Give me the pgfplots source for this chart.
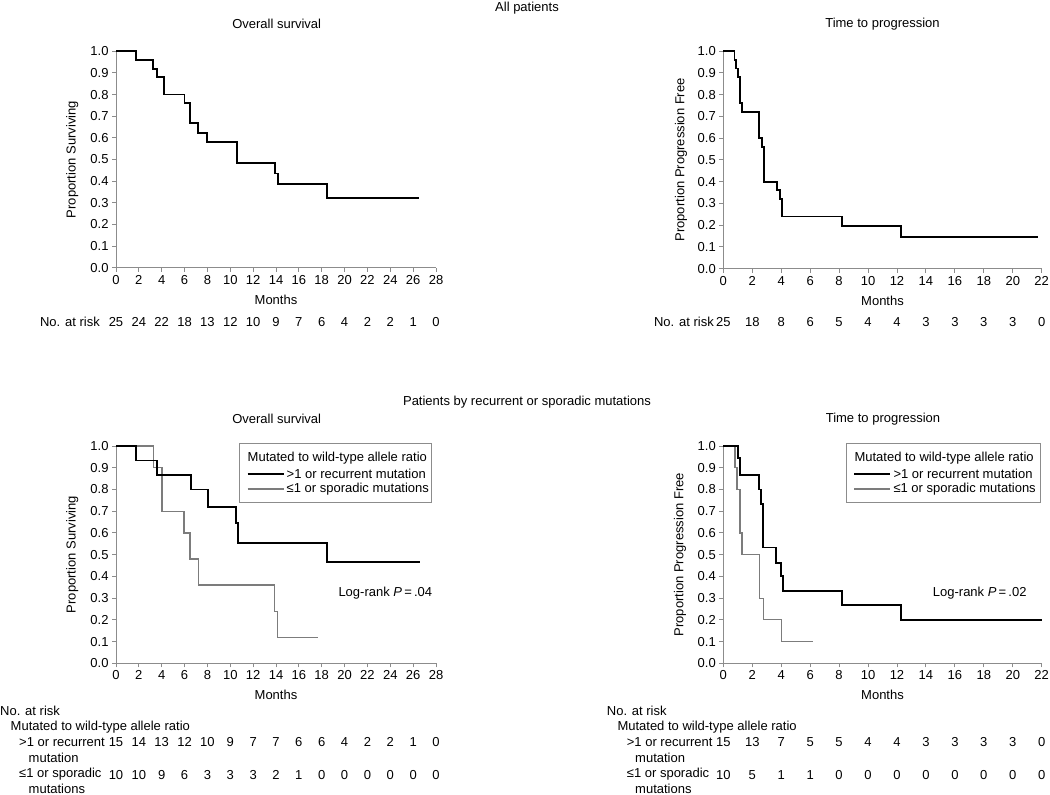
\documentclass[border=0pt]{standalone}
\usepackage{fontspec}
\setmainfont{Liberation Sans}
\usepackage{pgfplots}
\pgfplotsset{compat=1.18}
\definecolor{axgray}{HTML}{8C8C8C}
\definecolor{kmgray}{HTML}{7C7C7C}
\newcommand{\fs}{\fontsize{13bp}{15.6bp}\selectfont}

\pgfplotsset{
  km/.style={
    scale only axis,
    axis x line*=bottom, axis y line*=left,
    axis line style={draw=axgray, line width=0.9bp, -},
    every tick/.style={draw=axgray, line width=0.9bp},
    tick align=outside, major tick length=4bp,
    ymin=0, ymax=1,
    ytick={0,0.1,0.2,0.3,0.4,0.5,0.6,0.7,0.8,0.9,1},
    /pgf/number format/assume math mode=true,
    y tick label style={/pgf/number format/.cd, fixed, fixed zerofill, precision=1},
    tick label style={font=\fs, text=black},
    label style={font=\fs, text=black},
    xlabel={Months},
    xlabel style={at={(axis description cs:0.5,-0.147)}, anchor=center},
    ylabel style={at={(axis description cs:-0.137,0.5)}, anchor=center},
    clip=false,
  },
  hi/.style={const plot, black, line width=1.8bp},
  lo/.style={const plot, kmgray, line width=1.2bp},
}

\begin{document}
\begin{tikzpicture}[font=\fs]
\useasboundingbox (0bp,0bp) rectangle (1050bp,795bp);

% ---------- top left: overall survival, all patients
\begin{axis}[km, at={(116bp,527.3bp)}, anchor=south west, width=320bp, height=216.4bp,
  xmin=0, xmax=28, xtick={0,2,...,28}, ylabel={Proportion Surviving}]
\addplot[hi] coordinates {
  (0,1) (1.75,0.96) (3.27,0.92) (3.59,0.88) (4.17,0.80) (6.0,0.76) (6.47,0.667)
  (7.2,0.624) (7.93,0.58) (10.58,0.484) (13.9,0.435) (14.2,0.387) (18.48,0.322) (26.53,0.322)};
\foreach \n [count=\i from 0] in {25,24,22,18,13,12,10,9,7,6,4,2,2,1,0} {
  \edef\tmp{\noexpand\node[anchor=center] at (axis cs:\the\numexpr2*\i\relax,-0.25) {\n};}\tmp
}
\end{axis}

% ---------- top right: time to progression, all patients
\begin{axis}[km, at={(723.3bp,526.3bp)}, anchor=south west, width=318.4bp, height=217.7bp,
  xmin=0, xmax=22, xtick={0,2,...,22}, ylabel={Proportion Progression Free},
  ylabel style={at={(axis description cs:-0.133,0.5)}}]
\addplot[hi] coordinates {
  (0,1) (0.78,0.96) (0.9,0.92) (1.01,0.88) (1.13,0.76) (1.27,0.72) (2.47,0.60)
  (2.65,0.56) (2.81,0.40) (3.71,0.36) (3.92,0.32) (4.08,0.24) (8.18,0.195) (12.26,0.146) (21.77,0.146)};
\foreach \n [count=\i from 0] in {25,18,8,6,5,4,4,3,3,3,3,0} {
  \edef\tmp{\noexpand\node[anchor=center] at (axis cs:\the\numexpr2*\i\relax,-0.243) {\n};}\tmp
}
\end{axis}

% ---------- bottom left: overall survival by group
\begin{axis}[km, at={(116bp,131.7bp)}, anchor=south west, width=320bp, height=217.3bp,
  xmin=0, xmax=28, xtick={0,2,...,28}, ylabel={Proportion Surviving}]
\addplot[lo] coordinates {
  (0,1) (3.27,0.90) (4.02,0.70) (5.95,0.60) (6.47,0.48) (7.2,0.36) (13.85,0.24) (14.11,0.12) (17.7,0.12)};
\addplot[hi] coordinates {
  (0,1) (1.75,0.933) (3.59,0.867) (6.53,0.80) (8.05,0.72) (10.47,0.645) (10.64,0.555) (18.48,0.465) (26.6,0.465)};
\foreach \n [count=\i from 0] in {15,14,13,12,10,9,7,7,6,6,4,2,2,1,0} {
  \edef\tmp{\noexpand\node[anchor=center] at (axis cs:\the\numexpr2*\i\relax,-0.361) {\n};}\tmp
}
\foreach \n [count=\i from 0] in {10,10,9,6,3,3,3,2,1,0,0,0,0,0,0} {
  \edef\tmp{\noexpand\node[anchor=center] at (axis cs:\the\numexpr2*\i\relax,-0.514) {\n};}\tmp
}
\end{axis}

% ---------- bottom right: time to progression by group
\begin{axis}[km, at={(723.3bp,131.7bp)}, anchor=south west, width=318.4bp, height=217.3bp,
  xmin=0, xmax=22, xtick={0,2,...,22}, ylabel={Proportion Progression Free},
  ylabel style={at={(axis description cs:-0.136,0.5)}}]
\addplot[lo] coordinates {
  (0,1) (0.81,0.90) (0.94,0.80) (1.15,0.60) (1.29,0.50) (2.49,0.30) (2.76,0.20) (4.03,0.10) (6.18,0.10)};
\addplot[hi] coordinates {
  (0,1) (1.01,0.945) (1.17,0.867) (2.49,0.80) (2.6,0.733) (2.76,0.533) (3.64,0.46)
  (3.96,0.40) (4.15,0.333) (8.18,0.267) (12.26,0.20) (22.0,0.20)};
\foreach \n [count=\i from 0] in {15,13,7,5,5,4,4,3,3,3,3,0} {
  \edef\tmp{\noexpand\node[anchor=center] at (axis cs:\the\numexpr2*\i\relax,-0.361) {\n};}\tmp
}
\foreach \n [count=\i from 0] in {10,5,1,1,0,0,0,0,0,0,0,0} {
  \edef\tmp{\noexpand\node[anchor=center] at (axis cs:\the\numexpr2*\i\relax,-0.514) {\n};}\tmp
}
\end{axis}

% ---------- titles
\node at (527bp,787bp) {All patients};
\node at (276.7bp,771bp) {Overall survival};
\node at (882.5bp,771bp) {Time to progression};
\node at (527bp,393bp) {Patients by recurrent or sporadic mutations};
\node at (276.7bp,375.7bp) {Overall survival};
\node at (883bp,375.7bp) {Time to progression};

% ---------- at-risk row labels
\begin{scope}[every node/.style={inner sep=0pt}]
\node[anchor=east] at (100bp,473.3bp) {No. at risk};
\node[anchor=east] at (714bp,473.3bp) {No. at risk};

\node[anchor=west] at (0bp,84bp) {No. at risk};
\node[anchor=west] at (10.5bp,68.3bp) {Mutated to wild-type allele ratio};
\node[anchor=west] at (19bp,53.3bp) {>1 or recurrent};
\node[anchor=west] at (28.5bp,37bp) {mutation};
\node[anchor=west] at (19bp,20.5bp) {≤1 or sporadic};
\node[anchor=west] at (28.5bp,6bp) {mutations};

\node[anchor=west] at (606.7bp,84bp) {No. at risk};
\node[anchor=west] at (617.3bp,68.3bp) {Mutated to wild-type allele ratio};
\node[anchor=west] at (626.7bp,53.3bp) {>1 or recurrent};
\node[anchor=west] at (635bp,37bp) {mutation};
\node[anchor=west] at (626.7bp,20.5bp) {≤1 or sporadic};
\node[anchor=west] at (635bp,6bp) {mutations};
\end{scope}

% ---------- legends and log-rank notes
\draw[axgray, line width=0.9bp] (239.5bp,292.5bp) rectangle (431.5bp,352bp);
\node[anchor=west, inner sep=0pt] at (247.5bp,337bp) {Mutated to wild-type allele ratio};
\draw[black, line width=1.8bp] (247.5bp,321bp) -- (283.5bp,321bp);
\node[anchor=west, inner sep=0pt] at (286.5bp,321bp) {>1 or recurrent mutation};
\draw[kmgray, line width=1.2bp] (247.5bp,306bp) -- (283.5bp,306bp);
\node[anchor=west, inner sep=0pt] at (286.5bp,306bp) {≤1 or sporadic mutations};

\draw[axgray, line width=0.9bp] (846.7bp,292.5bp) rectangle (1040bp,352bp);
\node[anchor=west, inner sep=0pt] at (854.3bp,337bp) {Mutated to wild-type allele ratio};
\draw[black, line width=1.8bp] (854.3bp,321bp) -- (890.3bp,321bp);
\node[anchor=west, inner sep=0pt] at (893.3bp,321bp) {>1 or recurrent mutation};
\draw[kmgray, line width=1.2bp] (854.3bp,306bp) -- (890.3bp,306bp);
\node[anchor=west, inner sep=0pt] at (893.3bp,306bp) {≤1 or sporadic mutations};

\node[anchor=west, inner sep=0pt] at (338.3bp,201.7bp) {Log-rank \textit{P}\,=\,.04};
\node[anchor=west, inner sep=0pt] at (932.7bp,201.7bp) {Log-rank \textit{P}\,=\,.02};
\end{tikzpicture}
\end{document}
